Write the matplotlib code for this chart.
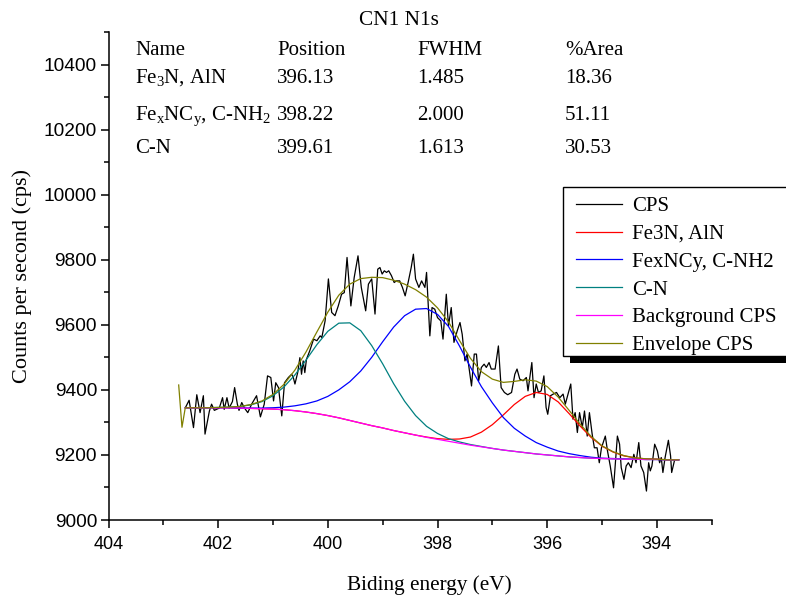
import matplotlib
matplotlib.use("Agg")
import matplotlib.pyplot as plt
from matplotlib.ticker import MultipleLocator
from matplotlib.patches import Rectangle

plt.rcParams['mathtext.fontset'] = 'custom'
plt.rcParams['mathtext.rm'] = 'Liberation Serif'
plt.rcParams['mathtext.it'] = 'Liberation Serif:italic'

SERIF = 'Liberation Serif'
SANS = 'Liberation Sans'

# ---------------- data ----------------
cps_energy = [
    402.59, 402.53, 402.45, 402.39, 402.33, 402.27, 402.24, 402.16, 402.12, 402.07,
    401.98, 401.92, 401.89, 401.84, 401.80, 401.74, 401.70, 401.65, 401.62, 401.57,
    401.52, 401.46, 401.39, 401.30, 401.23, 401.16, 401.10, 401.04, 400.99, 400.95,
    400.90, 400.84, 400.79, 400.72, 400.66, 400.63, 400.60, 400.55, 400.51, 400.48,
    400.45, 400.42, 400.39, 400.33, 400.26, 400.20, 400.14, 400.11, 400.05, 399.99,
    399.93, 399.87, 399.81, 399.75, 399.70, 399.65, 399.58, 399.52, 399.45, 399.39,
    399.31, 399.26, 399.20, 399.14, 399.09, 399.05, 399.01, 398.97, 398.93, 398.89,
    398.84, 398.79, 398.75, 398.69, 398.64, 398.59, 398.53, 398.48, 398.44, 398.40,
    398.34, 398.29, 398.23, 398.20, 398.17, 398.14, 398.10, 398.05, 398.00, 397.94,
    397.90, 397.84, 397.80, 397.75, 397.70, 397.64, 397.59, 397.55, 397.50, 397.46,
    397.38, 397.33, 397.29, 397.25, 397.20, 397.15, 397.11, 397.06, 397.02, 396.95,
    396.89, 396.84, 396.78, 396.72, 396.65, 396.59, 396.55, 396.50, 396.44, 396.38,
    396.35, 396.28, 396.24, 396.20, 396.16, 396.11, 396.06, 396.02, 395.99, 395.94,
    395.89, 395.83, 395.77, 395.71, 395.67, 395.62, 395.57, 395.53, 395.49, 395.45,
    395.41, 395.36, 395.32, 395.27, 395.23, 395.18, 395.14, 395.09, 395.05, 395.01,
    394.94, 394.90, 394.85, 394.79, 394.72, 394.68, 394.65, 394.60, 394.56, 394.52,
    394.47, 394.42, 394.38, 394.33, 394.29, 394.24, 394.19, 394.15, 394.12, 394.09,
    394.04, 393.99, 393.95, 393.92, 393.89, 393.85, 393.79, 393.75, 393.73, 393.68,
]
cps_counts = [
    9348, 9368, 9284, 9385, 9330, 9382, 9264, 9335, 9356, 9337,
    9344, 9376, 9340, 9376, 9344, 9364, 9407, 9356, 9337, 9361,
    9344, 9330, 9356, 9382, 9317, 9356, 9443, 9438, 9366, 9422,
    9407, 9320, 9422, 9438, 9448, 9438, 9418, 9453, 9499, 9448,
    9489, 9453, 9494, 9520, 9556, 9551, 9566, 9561, 9612, 9741,
    9638, 9628, 9658, 9694, 9699, 9807, 9658, 9745, 9812, 9715,
    9643, 9725, 9741, 9633, 9771, 9776, 9756, 9766, 9761, 9766,
    9751, 9730, 9735, 9735, 9715, 9689, 9735, 9776, 9817, 9741,
    9715, 9735, 9715, 9761, 9665, 9566, 9653, 9648, 9622, 9612,
    9556, 9694, 9597, 9653, 9546, 9582, 9607, 9571, 9489, 9510,
    9412, 9510, 9510, 9428, 9469, 9479, 9469, 9484, 9464, 9464,
    9535, 9407, 9392, 9385, 9392, 9448, 9464, 9433, 9428, 9438,
    9397, 9484, 9376, 9418, 9392, 9397, 9443, 9346, 9325, 9382,
    9387, 9392, 9376, 9387, 9356, 9387, 9418, 9310, 9330, 9269,
    9330, 9284, 9335, 9258, 9330, 9264, 9222, 9222, 9176, 9222,
    9258, 9212, 9166, 9099, 9258, 9233, 9161, 9125, 9166, 9176,
    9161, 9202, 9176, 9238, 9166, 9146, 9089, 9176, 9151, 9166,
    9233, 9212, 9176, 9192, 9146, 9192, 9245, 9197, 9146, 9182,
]

fit_energy = [
    402.6, 402.4, 402.2, 402.0, 401.8, 401.6, 401.4, 401.2, 401.0, 400.8,
    400.6, 400.4, 400.2, 400.0, 399.8, 399.6, 399.4, 399.2, 399.0, 398.8,
    398.6, 398.4, 398.2, 398.0, 397.8, 397.6, 397.4, 397.2, 397.0, 396.8,
    396.6, 396.4, 396.2, 396.0, 395.8, 395.6, 395.4, 395.2, 395.0, 394.8,
    394.6, 394.4, 394.2, 394.0, 393.8, 393.6,
]
background_cps = [
    9345, 9345, 9345, 9345, 9345, 9344, 9343, 9342, 9341, 9339,
    9336, 9332, 9327, 9321, 9314, 9306, 9298, 9290, 9283, 9275,
    9268, 9261, 9254, 9248, 9242, 9236, 9230, 9225, 9220, 9215,
    9211, 9207, 9203, 9200, 9197, 9194, 9192, 9190, 9189, 9188,
    9187, 9187, 9186, 9186, 9185, 9185,
]
fe3n_aln = [
    9345, 9345, 9345, 9345, 9345, 9344, 9343, 9342, 9341, 9339,
    9336, 9332, 9327, 9321, 9314, 9306, 9298, 9290, 9283, 9275,
    9268, 9261, 9255, 9250, 9248, 9249, 9255, 9270, 9293, 9323,
    9355, 9380, 9392, 9386, 9363, 9327, 9289, 9254, 9227, 9209,
    9197, 9191, 9188, 9187, 9185, 9185,
]
fexncy_cnh2 = [
    9345, 9345, 9345, 9345, 9345, 9344, 9344, 9344, 9345, 9347,
    9351, 9357, 9366, 9380, 9400, 9425, 9458, 9500, 9548, 9593,
    9628, 9648, 9650, 9632, 9595, 9535, 9470, 9410, 9360, 9315,
    9282, 9258, 9238, 9224, 9212, 9204, 9198, 9193, 9190, 9189,
    9188, 9187, 9186, 9186, 9185, 9185,
]
c_n = [
    9345, 9345, 9345, 9346, 9347, 9349, 9354, 9364, 9382, 9409,
    9446, 9491, 9539, 9580, 9605, 9606, 9582, 9536, 9480, 9419,
    9365, 9321, 9288, 9266, 9250, 9240, 9232, 9226, 9220, 9215,
    9211, 9207, 9203, 9200, 9197, 9194, 9192, 9190, 9189, 9188,
    9187, 9187, 9186, 9186, 9185, 9185,
]
envelope_energy = [402.72, 402.66] + fit_energy
envelope_cps = [9415, 9285,
    9345, 9345, 9345, 9346, 9347, 9349, 9355, 9366, 9386, 9417,
    9461, 9516, 9578, 9639, 9691, 9725, 9742, 9746, 9745, 9737,
    9725, 9708, 9685, 9652, 9609, 9552, 9497, 9456, 9433, 9423,
    9426, 9431, 9427, 9410, 9378, 9337, 9295, 9257, 9228, 9210,
    9198, 9191, 9188, 9187, 9185, 9185,
]

table_header = ["Name", "Position", "FWHM", "%Area"]
table_names = ["Fe$_3$N, AlN", "Fe$_\\mathrm{x}$NC$_\\mathrm{y}$, C-NH$_2$", "C-N"]
table_position = ["396.13", "398.22", "399.61"]
table_fwhm = ["1.485", "2.000", "1.613"]
table_area = ["18.36", "51.11", "30.53"]

legend_labels = ["CPS", "Fe3N, AlN", "FexNCy, C-NH2", "C-N", "Background CPS", "Envelope CPS"]
colors = ["#000000", "#ff0000", "#0000ff", "#008080", "#ff00ff", "#808000"]

# ---------------- figure ----------------
W, H = 786, 597
fig = plt.figure(figsize=(W / 100, H / 100), dpi=100)
L, R, B, T = 108.5, 711.7, 520, 32
ax = fig.add_axes([L / W, 1 - B / H, (R - L) / W, (B - T) / H])

lw = 0.9
h_cps, = ax.plot(cps_energy, cps_counts, color=colors[0], lw=lw, label=legend_labels[0], zorder=2)
h_red, = ax.plot(fit_energy, fe3n_aln, color=colors[1], lw=lw, label=legend_labels[1], zorder=3)
h_blue, = ax.plot(fit_energy, fexncy_cnh2, color=colors[2], lw=lw, label=legend_labels[2], zorder=3)
h_teal, = ax.plot(fit_energy, c_n, color=colors[3], lw=lw, label=legend_labels[3], zorder=3)
h_bg, = ax.plot(fit_energy, background_cps, color=colors[4], lw=lw, label=legend_labels[4], zorder=4)
h_env, = ax.plot(envelope_energy, envelope_cps, color=colors[5], lw=lw, label=legend_labels[5], zorder=5)

ax.set_xlim(404, 393)
ax.set_ylim(9000, 10500)
ax.xaxis.set_major_locator(MultipleLocator(2))
ax.xaxis.set_minor_locator(MultipleLocator(1))
ax.yaxis.set_major_locator(MultipleLocator(200))
ax.yaxis.set_minor_locator(MultipleLocator(100))
for s in ("top", "right"):
    ax.spines[s].set_visible(False)
for s in ("left", "bottom"):
    ax.spines[s].set_linewidth(1.1)
ax.tick_params(which="both", direction="out", width=1.1)
ax.tick_params(which="major", length=6)
ax.tick_params(which="minor", length=3.6)
ax.tick_params(axis="x", which="major", pad=5.6, labelsize=13)
ax.tick_params(axis="y", which="major", pad=2.2, labelsize=13.8)
for lab in ax.get_xticklabels() + ax.get_yticklabels():
    lab.set_fontfamily(SANS)

ax.set_xlabel("Biding energy (eV)", fontsize=15.3, fontfamily=SERIF)
ax.set_ylabel("Counts per second (cps)", fontsize=16, fontfamily=SERIF)
ax.xaxis.set_label_coords((429 - L) / (R - L), (B - 590) / (B - T))
ax.xaxis.label.set_va("baseline")
ax.yaxis.set_label_coords((22 - L) / (R - L), 0.5)
ax.yaxis.label.set_va("center")

fig.text(399 / W, 1 - 25 / H, "CN1 N1s", ha="center", va="baseline", fontsize=15.3, fontfamily=SERIF)

# table
col_x = [135, 277, 417, 565]
row_base = [55, 83, 120, 153]
for cx, txt in zip(col_x, table_header):
    fig.text(cx / W, 1 - row_base[0] / H, txt, ha="left", va="baseline", fontsize=15, fontfamily=SERIF)
for i in range(3):
    yb = 1 - row_base[i + 1] / H
    for cx, txt in zip(col_x, [table_names[i], table_position[i], table_fwhm[i], table_area[i]]):
        fig.text(cx / W, yb, txt, ha="left", va="baseline", fontsize=15, fontfamily=SERIF)

# legend (framed box with black shadow, extends beyond right edge)
fig.patches.append(Rectangle((570 / W, 1 - 362.5 / H), (W + 20 - 570) / W, 30 / H,
                             transform=fig.transFigure, facecolor="black", edgecolor="none", zorder=5))
fig.patches.append(Rectangle((563 / W, 1 - 356 / H), (W + 20 - 563) / W, (356 - 187) / H,
                             transform=fig.transFigure, facecolor="white", edgecolor="black",
                             linewidth=1.0, zorder=6))
leg = fig.legend(handles=[h_cps, h_red, h_blue, h_teal, h_bg, h_env], labels=legend_labels,
                 loc="upper left", bbox_to_anchor=(576 / W, 1 - 196.5 / H), bbox_transform=fig.transFigure,
                 frameon=False, borderpad=0, borderaxespad=0, handlelength=2.2, handletextpad=0.48,
                 labelspacing=0.395, prop={"family": SERIF, "size": 15})
leg.set_zorder(7)

fig.savefig("out.png", dpi=100)
